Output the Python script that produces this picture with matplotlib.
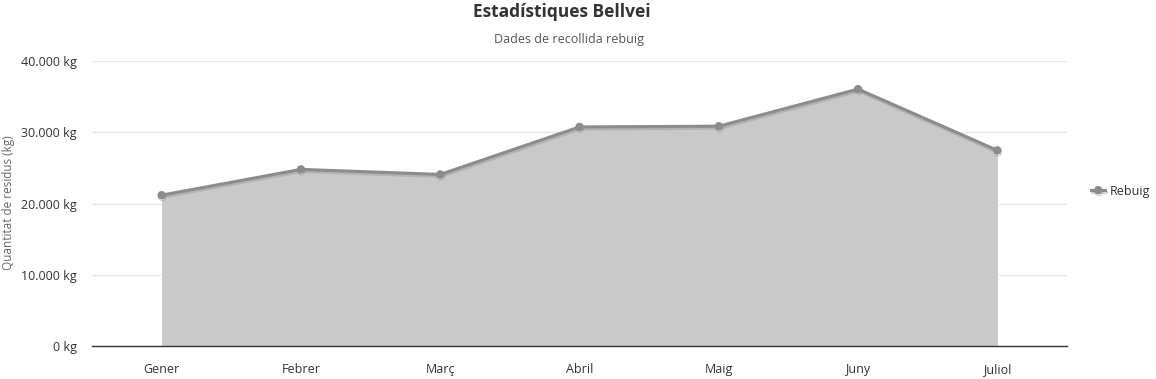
import matplotlib
matplotlib.use('Agg')
import matplotlib.pyplot as plt
import matplotlib.patheffects as pe
from matplotlib.ticker import FuncFormatter

plt.rcParams['font.family'] = ['Open Sans', 'DejaVu Sans']

mesos = ['Gener', 'Febrer', 'Març', 'Abril', 'Maig', 'Juny', 'Juliol']
rebuig = [21170, 24790, 24080, 30750, 30850, 36060, 27460]
yticks = [0, 10000, 20000, 30000, 40000]


def kg(v, pos):
    return '{:,.0f} kg'.format(v).replace(',', '.')


fig = plt.figure(figsize=(11.56, 3.79), dpi=100)
ax = fig.add_axes([92 / 1156, 33 / 379, 975 / 1156, 285 / 379])

x = list(range(len(mesos)))
ax.fill_between(x, rebuig, 0, color='#c9c9c9', linewidth=0, zorder=2)
ax.plot(x, rebuig, color='#8c8c8c', linewidth=2.2, marker='o', markersize=5,
        label='Rebuig', zorder=3,
        path_effects=[pe.SimpleLineShadow(offset=(0.5, -1.5), shadow_color='#888888', alpha=0.35),
                      pe.Normal()])

ax.set_xlim(-0.5, len(mesos) - 0.5)
ax.set_ylim(0, 40000)
ax.set_yticks(yticks)
ax.yaxis.set_major_formatter(FuncFormatter(kg))
ax.set_xticks(x)
ax.set_xticklabels(mesos)
ax.grid(axis='y', color='#e6e6e6', linewidth=1, zorder=0)
ax.set_axisbelow(True)
for s in ['top', 'right', 'left']:
    ax.spines[s].set_visible(False)
ax.spines['bottom'].set_color('#333333')
ax.spines['bottom'].set_linewidth(1)
ax.tick_params(axis='both', length=0, labelsize=9, labelcolor='#333333')
ax.tick_params(axis='y', pad=11)
ax.tick_params(axis='x', pad=12)

# etiqueta de l'eix Y com a text de figura per controlar-ne la posició
fig.text(9 / 1156, 1 - 203 / 379, 'Quantitat de residus (kg)', rotation=90,
         ha='center', va='center', fontsize=8.5, color='#666666')

fig.text(562 / 1156, 1 - 12 / 379, 'Estadístiques Bellvei', ha='center', va='center',
         fontsize=12.5, fontweight='bold', color='#333333')
fig.text(569 / 1156, 1 - 39 / 379, 'Dades de recollida rebuig', ha='center', va='center',
         fontsize=9, color='#555555')

leg = fig.legend(loc='center left', bbox_to_anchor=(1080 / 1156, 1 - 191 / 379),
                 frameon=False, fontsize=9, handlelength=1.1, handletextpad=0.4)
for t in leg.get_texts():
    t.set_color('#333333')

fig.savefig('out.png', dpi=100)
